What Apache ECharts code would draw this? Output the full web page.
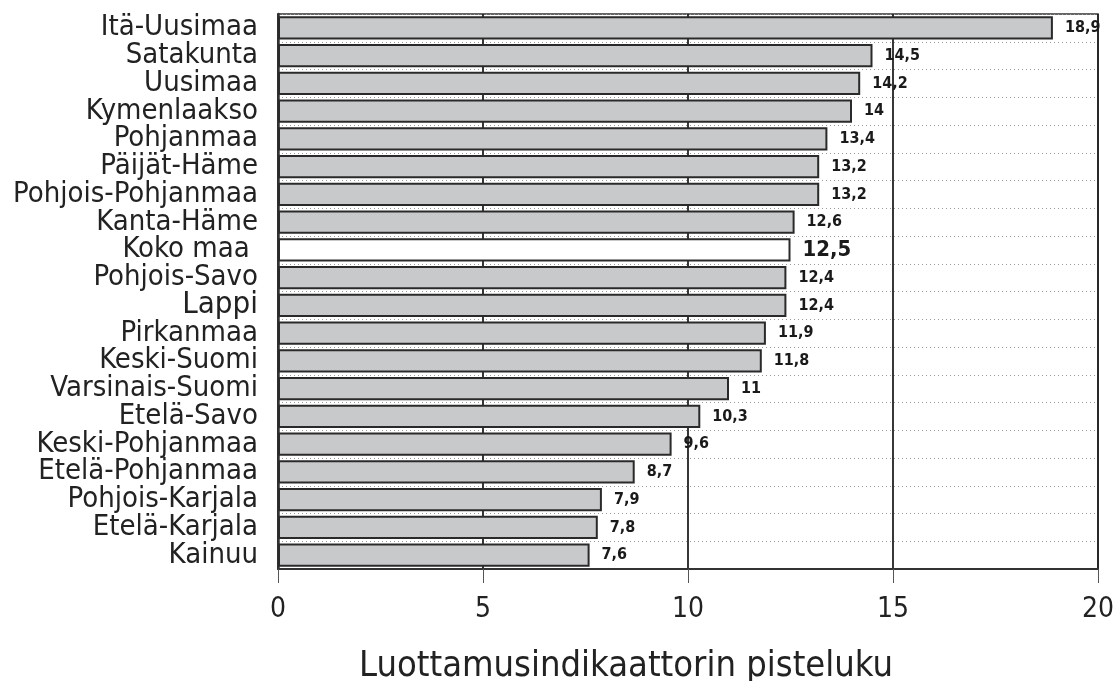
<!DOCTYPE html>
<html>
<head>
<meta charset="utf-8">
<script src="https://cdn.jsdelivr.net/npm/echarts@6/dist/echarts.min.js"></script>
<style>
  html, body { margin: 0; padding: 0; background: #fff; }
  #chart { width: 1114px; height: 681px; }
</style>
</head>
<body>
<div id="chart"></div>
<script>
// alueet ylhäältä alas
var regions = ['Itä-Uusimaa', 'Satakunta', 'Uusimaa', 'Kymenlaakso', 'Pohjanmaa', 'Päijät-Häme',
  'Pohjois-Pohjanmaa', 'Kanta-Häme', 'Koko maa ', 'Pohjois-Savo', 'Lappi', 'Pirkanmaa',
  'Keski-Suomi', 'Varsinais-Suomi', 'Etelä-Savo', 'Keski-Pohjanmaa', 'Etelä-Pohjanmaa',
  'Pohjois-Karjala', 'Etelä-Karjala', 'Kainuu']
var scores = [18.9, 14.5, 14.2, 14, 13.4, 13.2, 13.2, 12.6, 12.5, 12.4, 12.4, 11.9, 11.8, 11, 10.3, 9.6, 8.7, 7.9, 7.8, 7.6]
var xTicks = [0, 5, 10, 15, 20]
var totalName = 'Koko maa '

var font = '"Liberation Sans Narrow", "DejaVu Sans Condensed", "Roboto", sans-serif'

var chart = echarts.init(document.getElementById('chart'))
chart.setOption({
  backgroundColor: '#fff',
  animation: false,
  grid: {
    left: 278, right: 16, top: 14, bottom: 112,
    outerBoundsMode: 'none', containLabel: false,
    show: true, borderColor: '#333', borderWidth: 1.5
  },
  xAxis: {
    type: 'value',
    min: xTicks[0],
    max: xTicks[xTicks.length - 1],
    interval: 5,
    name: 'Luottamusindikaattorin pisteluku',
    nameLocation: 'middle',
    nameGap: 80,
    nameTextStyle: { fontFamily: font, fontSize: 36, color: '#222', padding: [0, 124, 0, 0] },
    axisLine: { show: true, lineStyle: { color: '#333', width: 2 } },
    axisTick: { show: true, length: 14, lineStyle: { color: '#555', width: 1 } },
    axisLabel: { margin: 27, fontFamily: font, fontSize: 28, color: '#222' },
    splitLine: { show: true, lineStyle: { color: '#222', width: 1.8 } }
  },
  yAxis: {
    type: 'category',
    inverse: true,
    data: regions,
    axisLine: { show: true, lineStyle: { color: '#333', width: 2.5 } },
    axisTick: { show: false },
    axisLabel: {
      margin: 20,
      fontFamily: font,
      fontSize: 29,
      lineHeight: 28,
      color: '#222',
      interval: 0,
      formatter: function (v) { return v === 'Lappi' ? '{big|' + v + '}' : v },
      rich: { big: { fontFamily: font, fontSize: 31, lineHeight: 28, color: '#222' } }
    },
    splitLine: { show: true, interval: 0, lineStyle: { color: '#999', type: [1, 3], width: 1 } }
  },
  series: [{
    type: 'bar',
    barCategoryGap: '17%',
    data: scores.map(function (v, i) {
      var isTotal = regions[i] === totalName
      return {
        value: v,
        itemStyle: { color: isTotal ? '#fff' : '#c8c9cb' },
        label: isTotal ? { fontSize: 22 } : {}
      }
    }),
    itemStyle: { borderColor: '#2a2a2a', borderWidth: 2 },
    label: {
      show: true,
      position: 'right',
      distance: 12,
      fontFamily: font,
      fontWeight: 'bold',
      fontSize: 16,
      color: '#1a1a1a',
      formatter: function (p) { return String(p.value).replace('.', ',') }
    }
  }]
})
</script>
</body>
</html>
